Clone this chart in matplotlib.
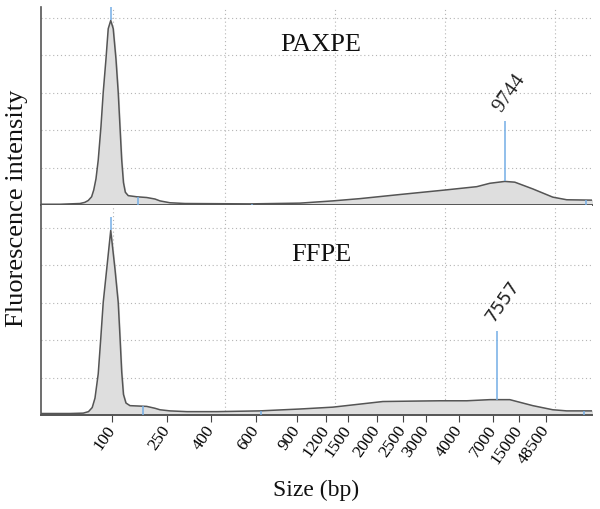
import numpy as np
import matplotlib
matplotlib.use("Agg")
import matplotlib.pyplot as plt

# migration time (s) of the ladder peaks and their sizes (tick labels)
ladder_time = [25.66, 30.06, 33.60, 37.18, 40.48, 42.80, 44.56, 46.86,
               48.94, 50.80, 53.44, 56.18, 58.26, 60.40]
ladder_bp = ["100", "250", "400", "600", "900", "1200", "1500", "2000",
             "2500", "3000", "4000", "7000", "15000", "48500"]

# PAXPE electropherogram
paxpe_t = [20.00, 21.52, 23.12, 23.50, 23.78, 24.05, 24.22, 24.40, 24.58, 24.80,
           24.98, 25.20, 25.38, 25.58, 25.78, 26.00, 26.18, 26.32, 26.46, 26.60,
           26.75, 26.98, 27.66, 28.46, 29.12, 29.52, 30.32, 31.52, 36.72, 40.72,
           43.36, 45.52, 48.72, 52.32, 54.88, 55.92, 57.12, 57.92, 59.36, 60.96,
           62.08, 64.08]
paxpe_fu = [0.02, 0.02, 0.04, 0.07, 0.12, 0.22, 0.40, 0.70, 1.20, 2.10,
            3.01, 3.90, 4.71, 4.93, 4.71, 3.90, 3.01, 2.10, 1.20, 0.60,
            0.34, 0.25, 0.22, 0.20, 0.16, 0.11, 0.06, 0.04, 0.03, 0.05,
            0.11, 0.17, 0.28, 0.40, 0.49, 0.58, 0.63, 0.61, 0.43, 0.21,
            0.14, 0.13]

# FFPE electropherogram
ffpe_t = [20.00, 22.32, 23.38, 23.80, 24.10, 24.32, 24.58, 24.78, 24.98, 25.26,
          25.58, 25.92, 26.18, 26.32, 26.46, 26.60, 26.80, 27.12, 28.46, 29.12,
          29.52, 30.32, 31.68, 34.08, 37.52, 40.72, 43.36, 47.36, 49.52, 51.92,
          54.08, 55.92, 57.52, 59.36, 60.96, 62.08, 64.16]
ffpe_fu = [0.04, 0.04, 0.05, 0.09, 0.20, 0.45, 1.10, 2.03, 3.01, 3.90,
           4.93, 3.90, 3.01, 2.10, 1.15, 0.55, 0.32, 0.25, 0.23, 0.18,
           0.14, 0.11, 0.09, 0.09, 0.11, 0.16, 0.21, 0.36, 0.37, 0.38,
           0.38, 0.41, 0.41, 0.25, 0.14, 0.11, 0.11]

panels = ["PAXPE", "FFPE"]
marker_t = [25.58, 25.58]            # lower marker (100 bp) peak
small_peaks = [[27.76, 36.88, 63.60], [28.16, 37.60, 63.44]]
peak_t = [57.12, 56.46]              # main fragment peak
peak_label = ["9744", "7557"]

serif = "Liberation Serif"
fill_c = "#dedede"
line_c = "#555555"
blue = "#74aee6"

fig = plt.figure(figsize=(6, 5.1), dpi=100)
ax1 = fig.add_axes([41 / 600, 1 - 206 / 510, 551 / 600, 198 / 510])
ax2 = fig.add_axes([41 / 600, 1 - 416 / 510, 551 / 600, 210 / 510])
axes = [ax1, ax2]
tops = [5.29, 5.61]
data = [(paxpe_t, paxpe_fu), (ffpe_t, ffpe_fu)]

for i, ax in enumerate(axes):
    t, fu = np.array(data[i][0]), np.array(data[i][1])
    ax.set_xlim(20, 64.1)
    ax.set_ylim(0, tops[i])
    ax.fill_between(t, 0, fu, color=fill_c, zorder=2)
    ax.plot(t, fu, color=line_c, lw=1.1, zorder=3)

    # peak markers
    ax.vlines(marker_t[i], np.interp(marker_t[i], t, fu), 5.29, color=blue, lw=1.1, zorder=4)
    for p in small_peaks[i]:
        ax.vlines(p, 0, np.interp(p, t, fu), color=blue, lw=1.1, zorder=4)
    ax.vlines(peak_t[i], np.interp(peak_t[i], t, fu), 2.25, color=blue, lw=1.1, zorder=4)
    fam = [serif] if i == 0 else ["DejaVu Sans"]
    ax.text(peak_t[i] - 0.55, 2.55, peak_label[i], rotation=55, rotation_mode="anchor",
            ha="left", va="center", fontsize=15 if i == 0 else 13, family=fam, color="#222222")

    ax.text(42.4, 4.3, panels[i], ha="center", va="center", fontsize=19,
            family=serif, color="#111111")

    # grid
    ax.set_yticks([1, 2, 3, 4, 5])
    ax.set_xticks([25.76, 34.72, 43.52, 52.32, 61.12], minor=True)
    ax.grid(True, which="major", axis="y", ls=(0, (1, 2.5)), color="#b5b5b5", lw=0.8)
    ax.grid(True, which="minor", axis="x", ls=(0, (1, 2.5)), color="#b5b5b5", lw=0.8)
    ax.tick_params(axis="y", length=0, labelleft=False)
    ax.tick_params(axis="x", which="minor", length=0)
    for s in ["top", "right"]:
        ax.spines[s].set_visible(False)
    ax.spines["left"].set_color("#555555")
    ax.spines["left"].set_linewidth(1.2)
    ax.spines["bottom"].set_color("#555555")
    ax.spines["bottom"].set_linewidth(1.4)
    ax.set_axisbelow(True)

ax1.set_xticks([])
ax1.set_xticks([25.76, 34.72, 43.52, 52.32, 61.12], minor=True)
ax2.set_xticks(ladder_time)
ax2.set_xticklabels(ladder_bp, rotation=55, rotation_mode="anchor", ha="right",
                    va="center", fontsize=12.5, family=serif)
ax2.tick_params(axis="x", which="major", length=5, color="#444444", pad=3)

fig.text(17 / 600, 1 - 208 / 510, "Fluorescence intensity", rotation=90,
         ha="center", va="center", fontsize=19, family=serif, color="#111111")
fig.text(316 / 600, 1 - 490 / 510, "Size (bp)", ha="center", va="center",
         fontsize=17, family=serif, color="#111111")

fig.savefig("out.png", dpi=100)
